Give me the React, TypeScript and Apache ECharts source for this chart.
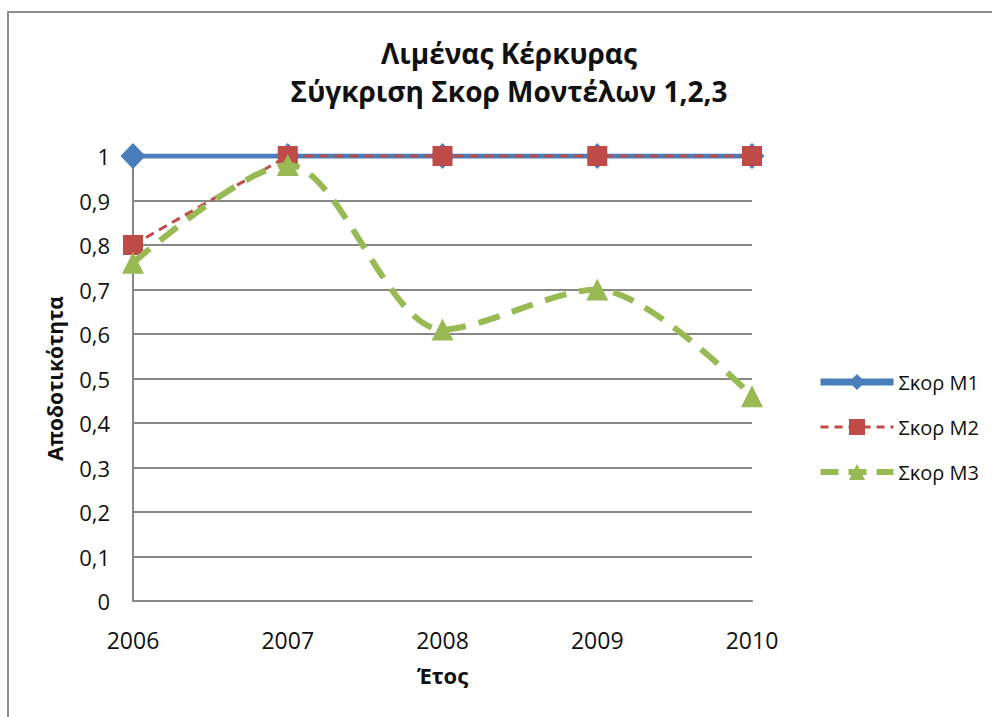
import React, { useEffect, useRef } from "react";
import * as echarts from "echarts";

const categories = ["2006", "2007", "2008", "2009", "2010"];
const seriesNames = ["Σκορ M1", "Σκορ M2", "Σκορ M3"];
const scoreM1 = [1, 1, 1, 1, 1];
const scoreM2 = [0.8, 1, 1, 1, 1];
const scoreM3 = [0.76, 0.98, 0.61, 0.7, 0.46];
const titleLines = ["Λιμένας Κέρκυρας", "Σύγκριση Σκορ Μοντέλων 1,2,3"];
const xAxisName = "Έτος";
const yAxisName = "Αποδοτικότητα";

const FONT = "'Open Sans', 'Noto Sans', sans-serif";
const BLUE = "#4a7ebb";
const RED = "#be4b48";
const GREEN = "#98b954";

export default function App() {
  const ref = useRef<HTMLDivElement>(null);

  useEffect(() => {
    if (!ref.current) return;
    const chart = echarts.init(ref.current, null, { renderer: "svg" });
    const option = {
      animation: false,
      backgroundColor: "#ffffff",
      title: {
        text: titleLines.join("\n"),
        left: 504,
        top: 29,
        textAlign: "center",
        textStyle: {
          fontFamily: FONT,
          fontSize: 28,
          fontWeight: "bold",
          lineHeight: 38,
          color: "#111111",
        },
      },
      graphic: [
        {
          type: "rect",
          shape: { x: 8, y: 12, width: 1200, height: 1200 },
          style: { fill: "none", stroke: "#8e8e8e", lineWidth: 2 },
          silent: true,
        },
      ],
      legend: {
        orient: "vertical",
        left: 812,
        top: 367,
        itemWidth: 73,
        itemHeight: 20,
        itemGap: 25,
        textStyle: { fontFamily: FONT, fontSize: 20, color: "#111111", padding: [0, 0, 0, 0] },
        data: [
          { name: seriesNames[0], lineStyle: { width: 7, color: BLUE } },
          { name: seriesNames[1], lineStyle: { width: 3, color: RED, type: [8, 6] } },
          { name: seriesNames[2], lineStyle: { width: 6, color: GREEN, type: [18, 10] } },
        ],
      },
      grid: { left: 133, right: 240, top: 156, bottom: 116 },
      xAxis: {
        type: "category",
        data: categories,
        boundaryGap: false,
        name: xAxisName,
        nameLocation: "middle",
        nameGap: 63,
        nameTextStyle: { fontFamily: FONT, fontSize: 22, fontWeight: "bold", color: "#111111" },
        axisLine: { show: true, lineStyle: { color: "#878787", width: 2 } },
        axisTick: { show: false },
        axisLabel: { fontFamily: FONT, fontSize: 23, color: "#111111", margin: 27 },
        splitLine: { show: false },
      },
      yAxis: {
        type: "value",
        min: 0,
        max: 1,
        interval: 0.1,
        name: yAxisName,
        nameLocation: "middle",
        nameGap: 68,
        nameRotate: 90,
        nameTextStyle: { fontFamily: FONT, fontSize: 21, fontWeight: "bold", color: "#111111" },
        axisLine: { show: true, lineStyle: { color: "#878787", width: 2 } },
        axisTick: { show: false },
        axisLabel: {
          fontFamily: FONT,
          fontSize: 22,
          color: "#111111",
          margin: 23,
          formatter: (v: number) => String(Math.round(v * 10) / 10).replace(".", ","),
        },
        splitLine: { show: true, lineStyle: { color: "#878787", width: 2 } },
      },
      series: [
        {
          name: seriesNames[0],
          type: "line",
          data: scoreM1,
          symbol: "diamond",
          symbolSize: [25, 26],
          itemStyle: { color: BLUE },
          lineStyle: { color: BLUE, width: 5 },
          z: 2,
        },
        {
          name: seriesNames[1],
          type: "line",
          data: scoreM2,
          symbol: "rect",
          symbolSize: 20,
          itemStyle: { color: RED },
          lineStyle: { color: RED, width: 3, type: [9, 6] },
          z: 3,
        },
        {
          name: seriesNames[2],
          type: "line",
          data: scoreM3,
          smooth: 0.3,
          symbol: "triangle",
          symbolSize: 22,
          itemStyle: { color: GREEN },
          lineStyle: { color: GREEN, width: 6, type: [22, 13] },
          z: 4,
        },
      ],
    };
    chart.setOption(option as any);
    return () => chart.dispose();
  }, []);

  return (
    <div
      ref={ref}
      style={{ position: "fixed", left: 0, top: 0, width: 992, height: 717, background: "#fff" }}
    />
  );
}
